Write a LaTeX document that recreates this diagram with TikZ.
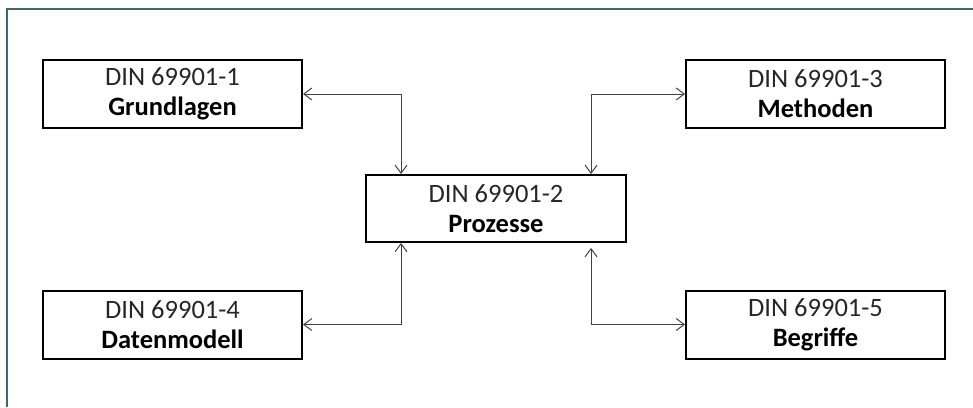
\documentclass[tikz,border=0pt]{standalone}
\usepackage{fontspec}
\setmainfont{Carlito}
\usetikzlibrary{arrows.meta}
\definecolor{framec}{RGB}{62,105,115}
\definecolor{linec}{RGB}{64,64,64}
\definecolor{txtc}{RGB}{38,38,38}
\begin{document}
\begin{tikzpicture}[x=1pt,y=-1pt,
  dinbox/.style={draw=black, line width=2pt, minimum width=259pt, minimum height=68pt,
    align=center, inner sep=0pt, font=\fontsize{26.5}{30}\selectfont, text=txtc},
  conn/.style={draw=linec, line width=1pt, {Straight Barb[length=8pt,width=12pt]}-{Straight Barb[length=8pt,width=12pt]}}]
\useasboundingbox (0,0) rectangle (973,407);
\draw[framec, line width=1.5pt] (7,407) -- (7,9) -- (973,9);
\node[dinbox] (g) at (172.5,94) {DIN 69901-1\\\textbf{\color{black}Grundlagen}};
\node[dinbox] (m) at (815.5,94) {DIN 69901-3\\\textbf{\color{black}Methoden}};
\node[dinbox, minimum width=260pt, minimum height=67pt] (p) at (496,208.5) {DIN 69901-2\\\textbf{\color{black}Prozesse}};
\node[dinbox] (d) at (172.5,324.5) {DIN 69901-4\\\textbf{\color{black}Datenmodell}};
\node[dinbox] (b) at (815.5,324.5) {DIN 69901-5\\\textbf{\color{black}Begriffe}};
\draw[conn] (g.east) -| ([xshift=-95pt]p.north);
\draw[conn] (m.west) -| ([xshift=95pt]p.north);
\draw[conn] (d.east) -| ([xshift=-95pt]p.south);
\draw[conn] (b.west) -| ([xshift=95pt,yshift=-5pt]p.south);
\end{tikzpicture}
\end{document}
